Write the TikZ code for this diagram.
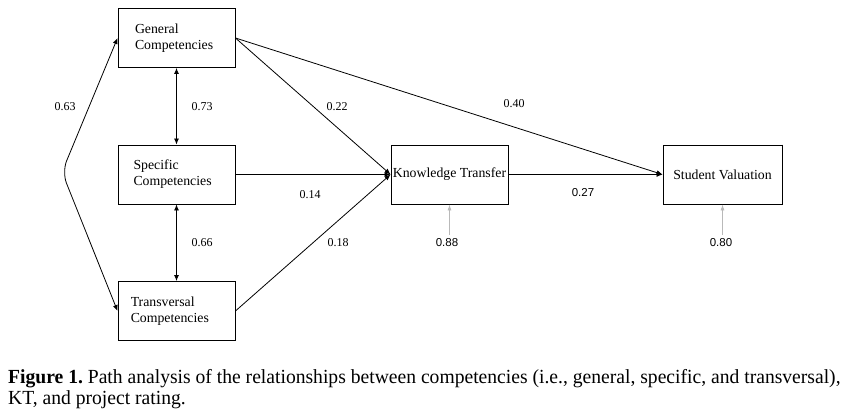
\documentclass[tikz,border=0pt]{standalone}
\usepackage{fontspec}
\setmainfont{Liberation Serif}
\newfontfamily\capfont[FakeStretch=0.98]{Liberation Serif}
\newfontfamily\numsans{Liberation Sans}
\usepackage{xcolor}
\usepackage{tikz}
\usetikzlibrary{arrows.meta,positioning}

\begin{document}
\begin{tikzpicture}[
  x=1pt,
  y=1pt,
  box/.style={draw, line width=0.9pt, minimum width=117pt, minimum height=59pt, inner sep=0pt, font=\fontsize{13.8}{16}\selectfont},
  compbox/.style={box, align=left, text width=86pt},
  path/.style={line width=0.8pt, -{Latex[length=6pt,width=5pt]}},
  cov/.style={line width=0.8pt, {Latex[length=6pt,width=5pt]}-{Latex[length=6pt,width=5pt]}},
  err/.style={line width=0.7pt, draw=gray!55, -{Latex[length=6pt,width=4pt]}},
  coef/.style={font=\fontsize{12}{14}\selectfont, inner sep=1pt},
  coefsans/.style={font=\numsans\fontsize{11.5}{14}\selectfont, inner sep=1pt}
]
\useasboundingbox (0,0) rectangle (845,419);

% competency boxes
\node[compbox, text width=83pt] (gen) at (176.5,381) {General\\Competencies};
\node[compbox] (spec) at (176.5,244.5) {Specific\\Competencies};
\node[compbox, text width=91.5pt] (trans) at (176.5,108) {Transversal\\Competencies};
% outcome boxes
\node[box] (kt) at (449.5,244.5) {Knowledge Transfer};
\node[box, minimum width=119pt] (sv) at (722.5,244.5) {Student Valuation};
\draw[line width=1.6pt] (sv.north east) -- (sv.south east);

% covariances
\draw[cov] (gen.south) -- (spec.north);
\draw[cov] (spec.south) -- (trans.north);
\coordinate (bend) at (62,247);
\draw[cov, rounded corners=12pt] (gen.west) -- (bend) -- (trans.west);

% paths
\draw[path] (gen.east) -- (kt.west);
\draw[path] (gen.east) -- (sv.west);
\draw[path] (spec.east) -- (kt.west);
\draw[path] (trans.east) -- (kt.west);
\draw[path] (kt.east) -- (sv.west);

% coefficients
\node[coef] (c63) at (65,312) {0.63};
\node[coef] (c73) at (202,312) {0.73};
\node[coef] (c66) at (202,176) {0.66};
\node[coef] (c22) at (337,312) {0.22};
\node[coef] (c40) at (514,315) {0.40};
\node[coef] (c14) at (310,224) {0.14};
\node[coef] (c18) at (338,176) {0.18};
\node[coefsans] (c27) at (583,226) {0.27};

% residuals
\node[coefsans] (e1) at (447,176) {0.88};
\node[coefsans] (e2) at (721,176) {0.80};
\draw[err] ([yshift=3pt]e1.north -| kt.south) -- (kt.south);
\draw[err] ([yshift=3pt]e2.north -| sv.south) -- (sv.south);

% caption
\node[anchor=north west, align=left, inner sep=0pt, font=\capfont\fontsize{20}{21}\selectfont] (cap) at (8,50)
  {\textbf{Figure 1.}\ Path analysis of the relationships between competencies (i.e., general, specific, and transversal),\\
   KT, and project rating.};
\end{tikzpicture}
\end{document}
